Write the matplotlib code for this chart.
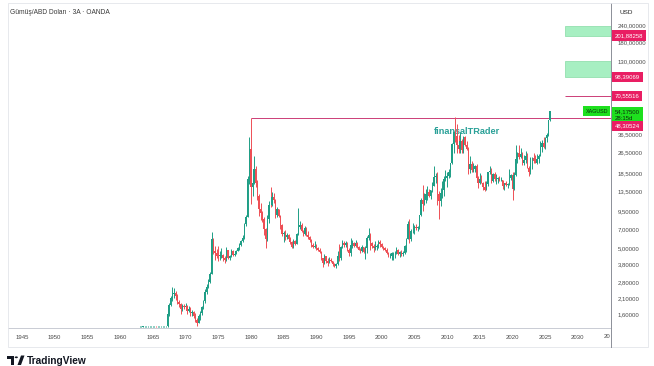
import numpy as np
import matplotlib
matplotlib.use("Agg")
import matplotlib.pyplot as plt
import matplotlib.transforms as mtransforms
from matplotlib.patches import Rectangle, Polygon, Circle
from matplotlib.ticker import FixedLocator, NullLocator

# ---------------- data (quarterly candles, XAG/USD) ----------------
start_year = 1963
first_open = 1.28
close = [
    1.28, 1.28, 1.29, 1.29,  # 1963
    1.29, 1.29, 1.29, 1.29,  # 1964
    1.29, 1.30, 1.29, 1.29,  # 1965
    1.29, 1.29, 1.29, 1.29,  # 1966
    1.29, 1.60, 1.87, 2.10,  # 1967
    2.25, 2.30, 2.20, 1.96,  # 1968
    1.90, 1.75, 1.85, 1.80,  # 1969
    1.85, 1.70, 1.75, 1.64,  # 1970
    1.65, 1.55, 1.45, 1.38,  # 1971
    1.55, 1.62, 1.80, 2.00,  # 1972
    2.35, 2.55, 2.80, 3.20,  # 1973
    5.90, 4.75, 4.60, 4.40,  # 1974
    4.35, 4.45, 4.45, 4.20,  # 1975
    4.10, 4.85, 4.25, 4.35,  # 1976
    4.75, 4.45, 4.55, 4.80,  # 1977
    5.00, 5.35, 5.65, 5.95,  # 1978
    7.60, 8.65, 16.80, 28.00,  # 1979
    14.50, 15.70, 20.00, 15.70,  # 1980
    12.50, 10.00, 9.30, 8.30,  # 1981
    7.00, 5.90, 8.40, 10.70,  # 1982
    10.60, 12.20, 11.60, 9.00,  # 1983
    9.90, 8.80, 7.50, 6.40,  # 1984
    6.50, 6.10, 6.30, 5.90,  # 1985
    5.60, 5.10, 5.70, 5.40,  # 1986
    6.40, 7.30, 7.50, 6.80,  # 1987
    6.40, 7.10, 6.30, 6.10,  # 1988
    5.80, 5.30, 5.10, 5.20,  # 1989
    5.00, 4.90, 4.70, 4.20,  # 1990
    3.90, 4.40, 4.00, 3.90,  # 1991
    4.10, 4.00, 3.80, 3.70,  # 1992
    3.80, 4.40, 4.20, 5.10,  # 1993
    5.50, 5.30, 5.50, 4.90,  # 1994
    4.60, 5.30, 5.50, 5.20,  # 1995
    5.50, 5.10, 4.90, 4.80,  # 1996
    5.10, 4.70, 5.00, 6.00,  # 1997
    6.30, 5.50, 5.20, 5.00,  # 1998
    5.10, 5.20, 5.60, 5.40,  # 1999
    5.10, 5.00, 4.90, 4.60,  # 2000
    4.40, 4.40, 4.60, 4.60,  # 2001
    4.60, 4.90, 4.50, 4.70,  # 2002
    4.50, 4.60, 5.20, 5.90,  # 2003
    7.70, 5.90, 6.80, 6.80,  # 2004
    7.20, 7.10, 7.20, 8.90,  # 2005
    11.60, 10.90, 11.60, 12.90,  # 2006
    13.30, 12.40, 13.70, 14.80,  # 2007
    17.20, 17.50, 12.90, 11.30,  # 2008
    13.10, 13.80, 16.60, 16.90,  # 2009
    17.50, 18.70, 22.00, 30.60,  # 2010
    37.90, 35.00, 30.10, 28.20,  # 2011
    32.50, 27.50, 34.60, 30.00,  # 2012
    28.30, 19.70, 21.70, 19.50,  # 2013
    19.70, 21.00, 17.10, 15.60,  # 2014
    16.60, 15.60, 14.50, 13.80,  # 2015
    15.40, 18.70, 19.20, 16.00,  # 2016
    18.20, 16.60, 16.60, 17.00,  # 2017
    16.30, 16.30, 14.70, 15.50,  # 2018
    15.00, 15.30, 17.00, 17.90,  # 2019
    14.10, 17.80, 23.60, 26.30,  # 2020
    24.40, 26.00, 22.20, 23.30,  # 2021
    25.10, 20.30, 19.00, 24.00,  # 2022
    24.10, 22.80, 22.20, 23.80,  # 2023
    25.00, 29.10, 31.10, 28.90,  # 2024
    34.10, 36.00, 46.30, 54.175,  # 2025
]
high = [
    1.29, 1.29, 1.29, 1.30,  # 1963
    1.30, 1.30, 1.30, 1.30,  # 1964
    1.30, 1.31, 1.30, 1.30,  # 1965
    1.30, 1.30, 1.30, 1.30,  # 1966
    1.30, 1.63, 1.95, 2.17,  # 1967
    2.56, 2.50, 2.40, 2.25,  # 1968
    2.05, 1.95, 1.90, 1.90,  # 1969
    1.95, 1.88, 1.85, 1.80,  # 1970
    1.72, 1.70, 1.62, 1.50,  # 1971
    1.60, 1.70, 1.85, 2.05,  # 1972
    2.45, 2.70, 2.95, 3.30,  # 1973
    6.60, 5.95, 5.20, 4.95,  # 1974
    5.20, 4.80, 5.00, 4.50,  # 1975
    4.40, 5.15, 4.90, 4.45,  # 1976
    4.95, 4.85, 4.65, 4.90,  # 1977
    5.10, 5.45, 5.80, 6.30,  # 1978
    7.80, 9.00, 17.50, 34.50,  # 1979
    48.30, 17.50, 25.00, 21.00,  # 1980
    16.50, 12.80, 11.00, 9.50,  # 1981
    8.60, 7.10, 9.00, 11.30,  # 1982
    14.50, 13.30, 13.00, 11.80,  # 1983
    10.20, 10.00, 8.90, 7.60,  # 1984
    6.80, 6.90, 6.50, 6.40,  # 1985
    6.10, 5.70, 5.90, 5.80,  # 1986
    6.50, 10.10, 8.00, 7.80,  # 1987
    6.90, 7.40, 7.30, 6.80,  # 1988
    6.20, 5.90, 5.50, 5.70,  # 1989
    5.40, 5.10, 5.00, 4.80,  # 1990
    4.25, 4.50, 4.40, 4.20,  # 1991
    4.30, 4.20, 4.05, 3.90,  # 1992
    3.85, 4.80, 5.40, 5.20,  # 1993
    5.80, 5.70, 5.70, 5.60,  # 1994
    5.00, 6.00, 5.80, 5.60,  # 1995
    5.80, 5.60, 5.25, 5.00,  # 1996
    5.30, 5.15, 5.20, 6.20,  # 1997
    7.10, 6.50, 5.60, 5.40,  # 1998
    5.70, 5.40, 5.80, 5.80,  # 1999
    5.45, 5.20, 5.10, 5.00,  # 2000
    4.70, 4.60, 4.70, 4.70,  # 2001
    4.80, 5.10, 4.95, 4.75,  # 2002
    4.90, 4.75, 5.35, 5.95,  # 2003
    8.00, 8.30, 7.00, 7.80,  # 2004
    7.50, 7.60, 7.35, 9.00,  # 2005
    12.00, 15.00, 13.00, 14.00,  # 2006
    14.90, 14.00, 13.90, 15.90,  # 2007
    21.00, 18.60, 19.00, 13.60,  # 2008
    14.40, 16.20, 17.50, 19.40,  # 2009
    19.00, 19.80, 22.10, 31.20,  # 2010
    38.20, 48.80, 43.40, 35.60,  # 2011
    37.50, 33.50, 35.40, 35.10,  # 2012
    32.40, 29.00, 25.10, 22.70,  # 2013
    22.00, 21.40, 21.60, 17.50,  # 2014
    18.50, 17.80, 15.80, 16.10,  # 2015
    16.20, 18.80, 21.10, 20.20,  # 2016
    18.50, 18.70, 18.20, 17.30,  # 2017
    17.70, 17.30, 16.40, 15.60,  # 2018
    16.20, 15.50, 19.70, 18.10,  # 2019
    18.90, 18.80, 29.90, 26.80,  # 2020
    30.10, 28.70, 26.50, 25.40,  # 2021
    27.00, 26.20, 20.90, 24.30,  # 2022
    24.60, 26.10, 25.30, 25.90,  # 2023
    25.80, 32.50, 32.70, 34.90,  # 2024
    34.60, 37.30, 46.80, 54.50,  # 2025
]
low = [
    1.27, 1.27, 1.28, 1.28,  # 1963
    1.28, 1.28, 1.28, 1.28,  # 1964
    1.28, 1.28, 1.28, 1.28,  # 1965
    1.28, 1.28, 1.28, 1.28,  # 1966
    1.28, 1.28, 1.55, 1.85,  # 1967
    2.00, 2.10, 2.05, 1.90,  # 1968
    1.80, 1.60, 1.70, 1.75,  # 1969
    1.78, 1.60, 1.65, 1.55,  # 1970
    1.55, 1.48, 1.40, 1.29,  # 1971
    1.36, 1.45, 1.58, 1.75,  # 1972
    1.95, 2.25, 2.50, 2.75,  # 1973
    3.20, 4.50, 4.10, 4.20,  # 1974
    4.05, 4.10, 4.20, 4.00,  # 1975
    3.85, 4.05, 4.15, 4.10,  # 1976
    4.30, 4.40, 4.40, 4.50,  # 1977
    4.75, 4.90, 5.20, 5.60,  # 1978
    5.90, 7.40, 8.60, 15.20,  # 1979
    10.80, 12.50, 15.30, 14.50,  # 1980
    11.50, 8.80, 8.20, 7.90,  # 1981
    6.30, 5.00, 5.70, 7.80,  # 1982
    10.20, 10.40, 11.00, 8.50,  # 1983
    8.60, 8.60, 7.00, 6.20,  # 1984
    5.60, 5.80, 5.90, 5.70,  # 1985
    5.40, 5.00, 5.00, 5.30,  # 1986
    5.40, 6.30, 7.00, 6.60,  # 1987
    6.20, 6.30, 6.20, 5.90,  # 1988
    5.60, 5.10, 5.00, 5.00,  # 1989
    4.90, 4.80, 4.60, 4.10,  # 1990
    3.60, 3.80, 3.90, 3.70,  # 1991
    3.85, 3.95, 3.70, 3.65,  # 1992
    3.55, 3.75, 4.00, 4.10,  # 1993
    5.00, 5.10, 5.10, 4.80,  # 1994
    4.40, 4.40, 5.00, 5.10,  # 1995
    5.15, 5.00, 4.85, 4.60,  # 1996
    4.70, 4.60, 4.15, 4.60,  # 1997
    5.80, 4.90, 5.00, 4.70,  # 1998
    4.90, 4.90, 5.00, 5.10,  # 1999
    5.00, 4.90, 4.80, 4.55,  # 2000
    4.30, 4.20, 4.10, 4.10,  # 2001
    4.20, 4.55, 4.45, 4.30,  # 2002
    4.35, 4.40, 4.55, 4.70,  # 2003
    5.85, 5.50, 5.70, 6.50,  # 2004
    6.40, 6.90, 6.80, 7.00,  # 2005
    8.80, 9.50, 10.60, 11.00,  # 2006
    11.50, 12.30, 11.70, 13.40,  # 2007
    14.70, 15.60, 10.60, 8.40,  # 2008
    10.40, 12.00, 12.40, 16.10,  # 2009
    14.60, 16.90, 17.40, 21.50,  # 2010
    26.30, 32.00, 26.10, 26.20,  # 2011
    26.20, 26.10, 26.10, 29.80,  # 2012
    27.50, 18.20, 18.60, 18.80,  # 2013
    19.00, 18.70, 17.00, 14.20,  # 2014
    15.30, 15.50, 13.90, 13.60,  # 2015
    13.70, 14.70, 18.10, 15.60,  # 2016
    15.90, 16.00, 15.20, 15.60,  # 2017
    16.10, 16.00, 14.00, 13.90,  # 2018
    14.90, 14.30, 15.10, 16.50,  # 2019
    11.60, 13.80, 17.60, 21.90,  # 2020
    23.80, 24.00, 21.40, 21.40,  # 2021
    21.90, 20.10, 17.50, 18.10,  # 2022
    19.90, 22.10, 21.90, 21.80,  # 2023
    21.90, 24.70, 26.50, 28.70,  # 2024
    28.30, 31.60, 35.30, 45.90,  # 2025
]

year_ticks = [1945, 1950, 1955, 1960, 1965, 1970, 1975, 1980, 1985, 1990,
              1995, 2000, 2005, 2010, 2015, 2020, 2025, 2030]
price_ticks = [1.6, 2.1, 2.8, 3.8, 5.0, 7.0, 9.5, 13.5, 18.5, 26.5, 36.5,
               130.0, 180.0, 240.0]

peak_level = 48.30524
peak_year = 1980.0
target_level = 70.55516
zone_top = (201.88258, 240.0)
zone_mid = (98.39069, 130.0)
zone_start = 2028.0
last_price = 54.175
symbol = "XAGUSD"
countdown = "28:15d"
title = "Gümüş/ABD Doları · 3A · OANDA"
watermark = "finansalTRader"

# ---------------- figure / layout ----------------
W, H = 654, 366
fig = plt.figure(figsize=(W / 100, H / 100), dpi=100)
fig.patch.set_facecolor("white")


def fx(px):
    return px / W


def fy(py):
    return 1 - py / H


FONT = ["Liberation Sans", "DejaVu Sans"]
plt.rcParams["font.family"] = FONT

ax = fig.add_axes([fx(8), fy(328), (611 - 8) / W, (328 - 3) / H])
ax.set_facecolor("white")

# scale calibration (pixel -> value) taken from the reference grid
px_per_ln = 57.56
y_ref_px, y_ref_val = 314.0, 1.6
ymin = y_ref_val * np.exp(-(328 - y_ref_px) / px_per_ln)
ymax = y_ref_val * np.exp((y_ref_px - 3) / px_per_ln)
px_per_year = 6.54
x_ref_px, x_ref_year = 22.0, 1945.0
xmin = x_ref_year - (x_ref_px - 8) / px_per_year
xmax = x_ref_year + (611 - x_ref_px) / px_per_year

ax.set_yscale("log")
ax.set_xlim(xmin, xmax)
ax.set_ylim(ymin, ymax)

# ---------------- candles ----------------
n = len(close)
assert len(high) == n and len(low) == n
t = start_year + np.arange(n) * 0.25
opens = np.array([first_open] + close[:-1])
closes = np.array(close)
up_col, dn_col = "#1f9e86", "#ee4f55"
cols = [up_col if c >= o else dn_col for o, c in zip(opens, closes)]
ax.vlines(t, low, high, colors=cols, linewidth=0.7, zorder=3)
bottoms = np.minimum(opens, closes)
heights = np.abs(closes - opens)
ax.bar(t, heights, bottom=bottoms, width=0.21, color=cols, linewidth=0, zorder=4)

# ---------------- drawings ----------------
line_col = "#cc3d77"
ax.hlines(peak_level, peak_year, xmax, color=line_col, linewidth=0.7, zorder=2)
ax.hlines(target_level, zone_start, xmax, color=line_col, linewidth=0.7, zorder=2)
for lo, hi in (zone_top, zone_mid):
    ax.add_patch(Rectangle((zone_start, lo), xmax - zone_start, hi - lo,
                           facecolor="#a7efc2", edgecolor="#86dba5",
                           linewidth=0.5, zorder=2))

# watermark (under the candles)
ax.text(fx(467), fy(132), watermark, transform=fig.transFigure,
        ha="center", va="center", fontsize=6.6, fontweight="bold",
        color="#2aa198", zorder=1)

# ---------------- axes styling ----------------
for s in ("top", "left"):
    ax.spines[s].set_visible(False)
ax.spines["bottom"].set_color("#c9ccd4")
ax.spines["right"].set_color("#8c8f98")
ax.spines["bottom"].set_linewidth(0.7)
ax.spines["right"].set_linewidth(0.7)

ax.yaxis.tick_right()
ax.yaxis.set_major_locator(FixedLocator(price_ticks))
ax.yaxis.set_minor_locator(NullLocator())
ax.set_yticklabels([f"{v:.5f}".replace(".", ",") for v in price_ticks])
ax.tick_params(axis="y", length=0, pad=5, labelsize=4.3, labelcolor="#4a4a4a")

ax.set_xticks(year_ticks)
ax.set_xticklabels([str(y) for y in year_ticks])
ax.xaxis.set_minor_locator(NullLocator())
ax.tick_params(axis="x", length=0, pad=5, labelsize=4.3, labelcolor="#4a4a4a")
fig.text(fx(610), fy(336), "20", ha="right", va="center", fontsize=4.3, color="#4a4a4a")

# price-scale extension and outer frame
fig.add_artist(plt.Line2D([fx(611), fx(611)], [fy(328), fy(347)],
                          color="#8c8f98", linewidth=0.7))
fig.add_artist(Rectangle((fx(8), fy(347)), (648 - 8) / W, (347 - 3) / H,
                         transform=fig.transFigure, fill=False,
                         edgecolor="#e3e5ea", linewidth=0.6))

# ---------------- price-scale labels ----------------
ytrans = mtransforms.blended_transform_factory(ax.transAxes, ax.transData)
lab_x = 1 + 4 / 603


def scale_label(val, text, fc, tc, dy=0):
    tr = mtransforms.offset_copy(ytrans, fig=fig, x=0, y=-dy, units="dots")
    ax.text(lab_x, val, text, transform=tr, ha="left", va="center",
            fontsize=4.3, color=tc, clip_on=False, zorder=10, linespacing=1.25,
            bbox=dict(boxstyle="square,pad=0.45", facecolor=fc, edgecolor="none"))


pink = "#e91e63"
scale_label(zone_top[0], f"{zone_top[0]:.5f}".replace(".", ","), pink, "white")
scale_label(zone_mid[0], f"{zone_mid[0]:.5f}".replace(".", ","), pink, "white")
scale_label(target_level, f"{target_level:.5f}".replace(".", ","), pink, "white")
scale_label(last_price, f"{last_price:.5f}".replace(".", ",") + "\n" + countdown,
            "#1ee01e", "#0d2b0d", dy=4)
scale_label(peak_level, f"{peak_level:.5f}".replace(".", ","), pink, "white", dy=8)

tr_sym = mtransforms.offset_copy(ytrans, fig=fig, x=0, y=0, units="dots")
ax.text(1 - 3 / 603, last_price, symbol, transform=tr_sym, ha="right", va="center",
        fontsize=3.9, color="#0d2b0d", clip_on=False, zorder=10,
        bbox=dict(boxstyle="square,pad=0.45", facecolor="#1ee01e", edgecolor="none"))

fig.text(fx(619), fy(13), "USD", ha="left", va="center", fontsize=4.6, color="#222222")

# ---------------- title & branding ----------------
fig.text(fx(10), fy(12), title, ha="left", va="center", fontsize=4.8, color="#3a3a3a")

logo_col = "#131722"
fig.add_artist(Polygon([(fx(7), fy(355.5)), (fx(14), fy(355.5)), (fx(14), fy(365)),
                        (fx(11), fy(365)), (fx(11), fy(358.5)), (fx(7), fy(358.5))],
                       closed=True, transform=fig.transFigure, facecolor=logo_col,
                       edgecolor="none"))
fig.add_artist(Circle((fx(16.3), fy(357.3)), 1.6 / W, transform=fig.transFigure,
                      facecolor=logo_col, edgecolor="none"))
fig.add_artist(Polygon([(fx(17.5), fy(365)), (fx(21), fy(365)), (fx(24.5), fy(355.5)),
                        (fx(21), fy(355.5))], closed=True, transform=fig.transFigure,
                       facecolor=logo_col, edgecolor="none"))
fig.text(fx(27), fy(360.5), "TradingView", ha="left", va="center", fontsize=7.3,
         fontweight="bold", color=logo_col)

fig.savefig("out.png", dpi=100, facecolor="white")
